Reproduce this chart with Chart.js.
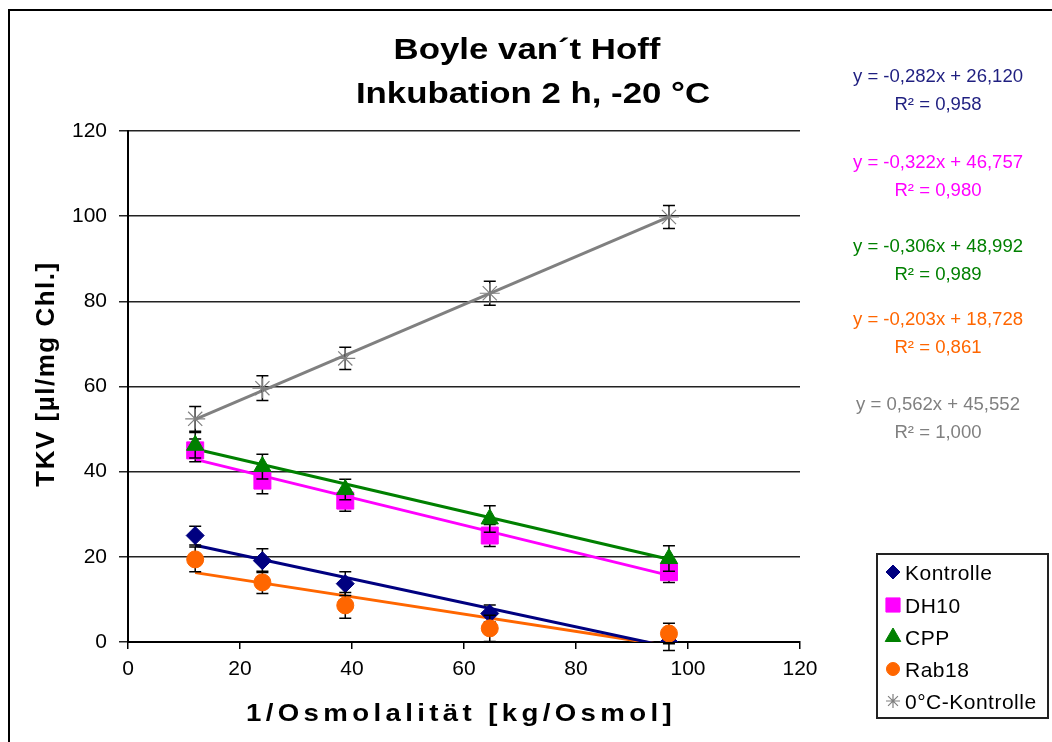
<!DOCTYPE html>
<html lang="de">
<head>
<meta charset="UTF-8">
<title>Boyle van't Hoff</title>
<script src="https://cdn.jsdelivr.net/npm/chart.js"></script>
<style>
  html, body { margin: 0; padding: 0; background: #fff; }
</style>
</head>
<body>
<canvas id="chart" width="1052" height="742"></canvas>
<script>
// 1/Osmolalität values (x) shared by all series
const osmolX = [12.0, 24.0, 38.8, 64.6, 96.6];

const seriesNames = ['Kontrolle', 'DH10', 'CPP', 'Rab18', '0°C-Kontrolle'];
const kontrolle  = [25.0, 19.1, 13.7, 6.7, 0.0];
const dh10       = [45.0, 37.9, 33.2, 25.0, 16.4];
const cpp        = [46.2, 41.2, 35.8, 28.9, 19.6];
const rab18      = [19.4, 14.0, 8.6, 3.2, 2.0];
const kontrolle0 = [52.4, 59.6, 66.6, 81.9, 99.8];

// +/- error bar sizes
const errKontrolle  = [2.2, 2.8, 2.8, 2.0, 2.0];
const errDh10       = [2.7, 3.1, 2.5, 2.6, 2.4];
const errCpp        = [3.0, 2.9, 2.4, 3.1, 3.0];
const errRab18      = [2.9, 2.6, 3.0, 3.1, 2.4];
const errKontrolle0 = [2.9, 2.9, 2.6, 2.8, 2.7];

// linear trend lines as printed in the chart
const trendSlope     = [-0.282, -0.322, -0.306, -0.203, 0.562];
const trendIntercept = [26.120, 46.757, 48.992, 18.728, 45.552];
const trendR2        = ['0,958', '0,980', '0,989', '0,861', '1,000'];

const xTicks = [0, 20, 40, 60, 80, 100, 120];
const yTicks = [0, 20, 40, 60, 80, 100, 120];

const seriesValues = [kontrolle, dh10, cpp, rab18, kontrolle0];
const seriesErrors = [errKontrolle, errDh10, errCpp, errRab18, errKontrolle0];
const colors = ['#000080', '#FF00FF', '#008000', '#FF6600', '#808080'];
const textColors = ['#1F1F80', '#FF00FF', '#008000', '#FF6600', '#808080'];
const styles = ['rectRot', 'rect', 'triangle', 'circle', 'star'];
const radii = [9, 12, 10, 8.5, 10];
const legendRadii = [7, 10, 9, 6.5, 7];

const FONT = "'Liberation Sans', Arial, sans-serif";

function fmt(v) {
    return v.toFixed(3).replace('.', ',');
}

// text stretched horizontally, like the original export
function wideText(ctx, text, x, y, sx) {
    ctx.save();
    ctx.translate(x, y);
    ctx.scale(sx, 1);
    ctx.fillText(text, 0, 0);
    ctx.restore();
}

const datasets = [];
seriesNames.forEach(function (name, i) {
    datasets.push({
        type: 'scatter',
        label: name,
        data: osmolX.map(function (x, j) { return { x: x, y: seriesValues[i][j] }; }),
        errors: seriesErrors[i],
        pointStyle: styles[i],
        pointRadius: radii[i],
        pointHoverRadius: radii[i],
        backgroundColor: colors[i],
        borderColor: colors[i],
        borderWidth: styles[i] === 'star' ? 1.2 : 1,
        showLine: false,
        order: 4 - i
    });
});
seriesNames.forEach(function (name, i) {
    const x0 = osmolX[0], x1 = osmolX[osmolX.length - 1];
    datasets.push({
        type: 'line',
        label: name + ' Trend',
        data: [
            { x: x0, y: trendSlope[i] * x0 + trendIntercept[i] },
            { x: x1, y: trendSlope[i] * x1 + trendIntercept[i] }
        ],
        borderColor: colors[i],
        borderWidth: 3,
        pointRadius: 0,
        fill: false,
        order: 10
    });
});

// error bars, drawn just before each scatter series
const errorBars = {
    id: 'errorBars',
    beforeDatasetDraw(chart, args) {
        const ds = chart.data.datasets[args.index];
        if (!ds.errors) return;
        const ctx = chart.ctx;
        const yScale = chart.scales.y;
        ctx.save();
        ctx.strokeStyle = '#000';
        ctx.lineWidth = 1.5;
        args.meta.data.forEach(function (pt, j) {
            const v = ds.data[j].y, e = ds.errors[j];
            const top = yScale.getPixelForValue(v + e);
            const bot = yScale.getPixelForValue(v - e);
            ctx.beginPath();
            ctx.moveTo(pt.x, top); ctx.lineTo(pt.x, bot);
            ctx.moveTo(pt.x - 6, top); ctx.lineTo(pt.x + 6, top);
            ctx.moveTo(pt.x - 6, bot); ctx.lineTo(pt.x + 6, bot);
            ctx.stroke();
        });
        ctx.restore();
    }
};

const decor = {
    id: 'decor',
    beforeDraw(chart) {
        const ctx = chart.ctx;
        ctx.save();
        ctx.fillStyle = '#fff';
        ctx.fillRect(0, 0, chart.width, chart.height);
        ctx.strokeStyle = '#000';
        ctx.lineWidth = 2;
        ctx.strokeRect(9, 10, chart.width + 20, chart.height + 20);
        ctx.restore();
    },
    afterDraw(chart) {
        const ctx = chart.ctx;
        ctx.save();
        ctx.textBaseline = 'alphabetic';
        ctx.fillStyle = '#000';

        // title
        ctx.font = 'bold 29px ' + FONT;
        ctx.textAlign = 'center';
        wideText(ctx, 'Boyle van´t Hoff', 527, 59, 1.2);
        wideText(ctx, 'Inkubation 2 h, -20 °C', 533, 103, 1.2);

        // x axis title
        ctx.font = 'bold 24px ' + FONT;
        ctx.letterSpacing = '3.8px';
        wideText(ctx, '1/Osmolalität [kg/Osmol]', 461, 721, 1.15);
        ctx.letterSpacing = '0px';

        // y axis title
        ctx.save();
        ctx.translate(54, 374);
        ctx.rotate(-Math.PI / 2);
        ctx.font = 'bold 26px ' + FONT;
        ctx.letterSpacing = '1.5px';
        ctx.fillText('TKV [µl/mg Chl.]', 0, 0);
        ctx.restore();

        // trend equations
        const eqBase = [82, 168, 252, 325, 410];
        ctx.letterSpacing = '0px';
        ctx.font = '18px ' + FONT;
        seriesNames.forEach(function (n, i) {
            ctx.fillStyle = textColors[i];
            wideText(ctx, 'y = ' + fmt(trendSlope[i]) + 'x + ' + fmt(trendIntercept[i]), 938, eqBase[i], 1.03);
            wideText(ctx, 'R² = ' + trendR2[i], 938, eqBase[i] + 28, 1.03);
        });

        // legend
        ctx.strokeStyle = '#222';
        ctx.lineWidth = 2;
        ctx.strokeRect(877, 554, 171, 164);
        ctx.font = '21px ' + FONT;
        ctx.letterSpacing = '0.5px';
        ctx.textAlign = 'left';
        const legBase = [580, 613, 645, 677, 709];
        seriesNames.forEach(function (n, i) {
            const cy = legBase[i] - 8;
            ctx.fillStyle = colors[i];
            ctx.strokeStyle = colors[i];
            ctx.lineWidth = styles[i] === 'star' ? 1.2 : 1;
            Chart.helpers.drawPoint(ctx, {
                pointStyle: styles[i], radius: legendRadii[i], rotation: 0,
                borderWidth: ctx.lineWidth
            }, 893, cy);
            ctx.fillStyle = '#000';
            ctx.fillText(n, 905, legBase[i]);
        });
        ctx.restore();
    }
};

new Chart(document.getElementById('chart'), {
    type: 'scatter',
    data: { datasets: datasets },
    options: {
        responsive: false,
        animation: false,
        layout: { padding: { left: 0, top: 131, right: 252, bottom: 0 } },
        plugins: {
            legend: { display: false },
            tooltip: { enabled: false },
            title: { display: false }
        },
        scales: {
            x: {
                type: 'linear',
                min: 0, max: 120,
                afterFit(s) { s.height = 100; },
                afterBuildTicks(s) { s.ticks = xTicks.map(function (v) { return { value: v }; }); },
                border: { display: true, color: '#000', width: 2 },
                grid: { drawOnChartArea: false, color: '#000', lineWidth: 1.5, tickLength: 7 },
                ticks: { color: '#000', font: { family: FONT, size: 21 }, padding: 8, maxRotation: 0 }
            },
            y: {
                type: 'linear',
                min: 0, max: 120,
                afterFit(s) { s.width = 128; },
                afterBuildTicks(s) { s.ticks = yTicks.map(function (v) { return { value: v }; }); },
                border: { display: true, color: '#000', width: 2 },
                grid: { color: '#222', lineWidth: 1.5, tickLength: 9 },
                ticks: { color: '#000', font: { family: FONT, size: 21 }, padding: 12 }
            }
        }
    },
    plugins: [errorBars, decor]
});
</script>
</body>
</html>
